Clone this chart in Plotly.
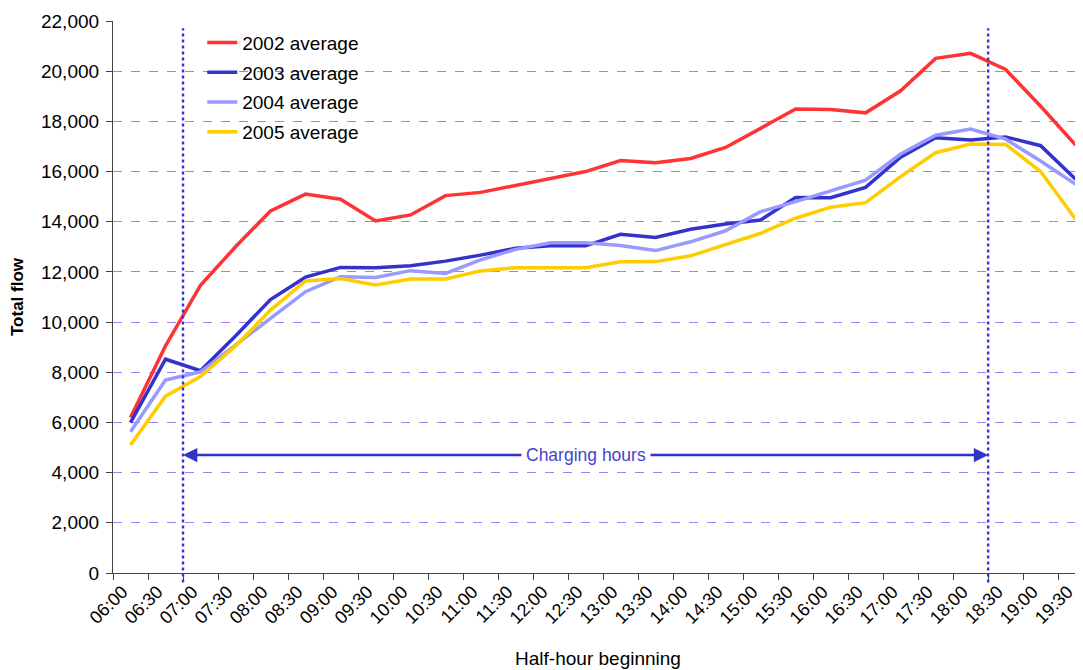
import plotly.graph_objects as go

times = ["06:00", "06:30", "07:00", "07:30", "08:00", "08:30", "09:00", "09:30",
         "10:00", "10:30", "11:00", "11:30", "12:00", "12:30", "13:00", "13:30",
         "14:00", "14:30", "15:00", "15:30", "16:00", "16:30", "17:00", "17:30",
         "18:00", "18:30", "19:00", "19:30"]

avg_2002 = [6200, 9050, 11470, 13000, 14430, 15100, 14900, 14030, 14270, 15040,
            15170, 15440, 15700, 16000, 16440, 16350, 16520, 16960, 17720, 18490,
            18470, 18340, 19220, 20510, 20710, 20070, 18600, 17060]
avg_2003 = [5990, 8520, 8060, 9450, 10900, 11790, 12180, 12170, 12250, 12430,
            12670, 12940, 13040, 13040, 13500, 13370, 13700, 13910, 14070, 14970,
            14960, 15370, 16570, 17350, 17260, 17380, 17030, 15690]
avg_2004 = [5630, 7690, 8020, 9100, 10150, 11210, 11810, 11780, 12050, 11940,
            12480, 12900, 13160, 13160, 13050, 12850, 13200, 13640, 14400, 14800,
            15220, 15660, 16700, 17450, 17690, 17290, 16420, 15490]
avg_2005 = [5100, 7050, 7830, 9050, 10480, 11640, 11740, 11480, 11720, 11720,
            12040, 12170, 12170, 12170, 12400, 12410, 12640, 13080, 13540, 14140,
            14580, 14760, 15800, 16750, 17100, 17080, 16000, 14100]

series_names = ["2002 average", "2003 average", "2004 average", "2005 average"]
series_values = [avg_2002, avg_2003, avg_2004, avg_2005]
series_colors = ["#ff3333", "#3333cc", "#9999ff", "#ffcc00"]

y_ticks = list(range(0, 22001, 2000))
charge_start = 1.5   # boundary before 07:00
charge_end = 24.5    # boundary before 18:30
arrow_level = 4700

FONT = "Liberation Sans, Arial, sans-serif"
idx = list(range(len(times)))

fig = go.Figure()
for i, (name, vals, col) in enumerate(zip(series_names, series_values, series_colors)):
    fig.add_trace(go.Scatter(x=idx, y=vals, mode="lines", name=name,
                             line=dict(color=col, width=3.5),
                             legendgroup=f"g{i}"))

# vertical dotted lines (charging boundaries)
for xv in (charge_start, charge_end):
    fig.add_shape(type="line", xref="x", yref="paper", x0=xv, x1=xv,
                  y0=-0.017, y1=0.987,
                  line=dict(color="#3333dd", width=2.4, dash="dot"))

# double arrow
mid = (charge_start + charge_end) / 2
for end in (charge_start, charge_end):
    fig.add_annotation(x=end, y=arrow_level, ax=mid, ay=arrow_level,
                       xref="x", yref="y", axref="x", ayref="y",
                       showarrow=True, arrowhead=2, arrowsize=1.1, arrowwidth=2.6,
                       arrowcolor="#3333cc", text="")
fig.add_annotation(x=mid, y=arrow_level, xref="x", yref="y", text="Charging hours",
                   showarrow=False, bgcolor="white",
                   font=dict(family=FONT, size=17.5, color="#4444cc"),
                   borderpad=4)

fig.update_layout(
    width=1075, height=662,
    margin=dict(l=105, r=0, t=13, b=97),
    paper_bgcolor="white", plot_bgcolor="white",
    font=dict(family=FONT, size=19, color="black"),
    showlegend=True,
    legend=dict(x=0.092, y=0.995, xanchor="left", yanchor="top",
                bgcolor="rgba(0,0,0,0)", font=dict(family=FONT, size=19),
                tracegroupgap=2, itemwidth=30),
    xaxis=dict(
        range=[-0.5, 27.21], tickmode="array", tickvals=idx, ticktext=times,
        tickangle=-45, ticks="", showgrid=False, zeroline=False, automargin=False,
        showline=True, linecolor="#444", linewidth=1.2,
        tickfont=dict(family=FONT, size=18), ticklabelshift=-8,
        ticklabeloverflow="allow",
        minor=dict(tickmode="array", tickvals=[i - 0.5 for i in range(len(times) + 1)],
                   ticks="outside", ticklen=6, tickcolor="#444", showgrid=False),
        title=dict(text="Half-hour beginning", font=dict(family=FONT, size=19), standoff=24),
    ),
    yaxis=dict(
        range=[0, 22000], tickmode="array", tickvals=y_ticks, tickformat=",",
        ticks="outside", ticklen=6, tickcolor="#444", automargin=False,
        showline=True, linecolor="#444", linewidth=1.2, zeroline=False,
        showgrid=True, gridcolor="#a07cff", griddash="dash", gridwidth=1,
        tickfont=dict(family=FONT, size=19), ticklabelstandoff=3,
        title=dict(text="<b>Total flow</b>", font=dict(family=FONT, size=17), standoff=14),
    ),
)

fig.write_html("out.html")
